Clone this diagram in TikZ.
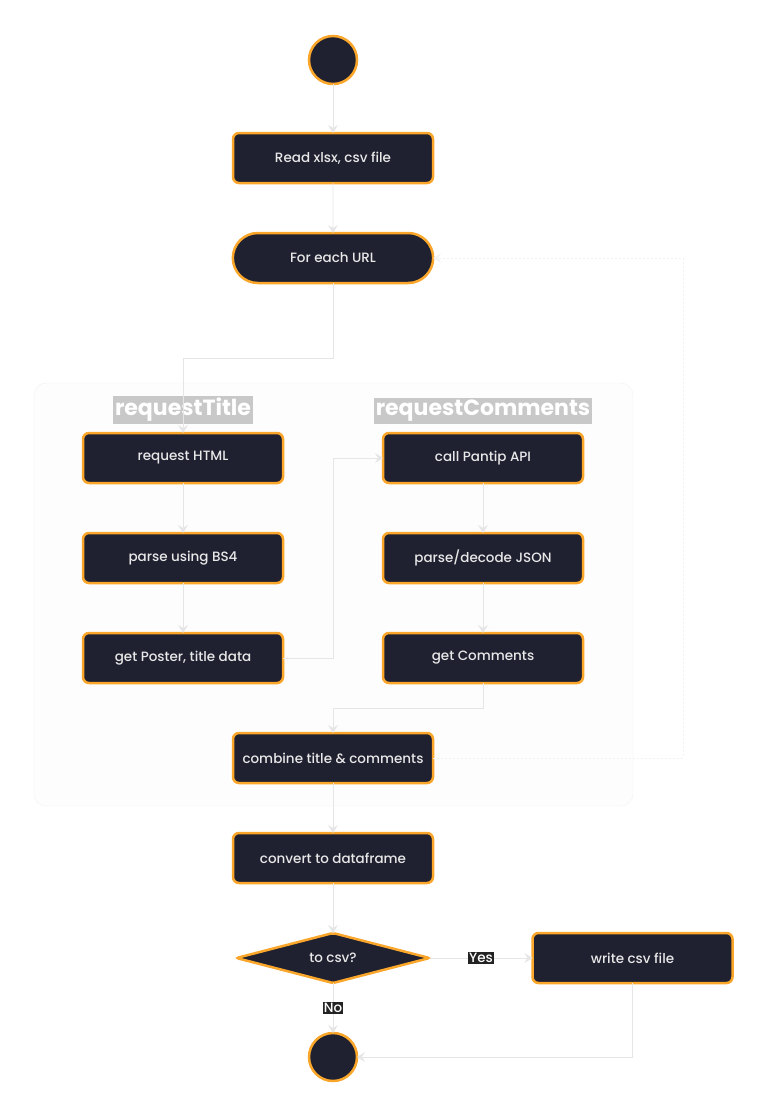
\documentclass[tikz,border=0pt]{standalone}
\usepackage{fontspec}
\setmainfont{Poppins}
\newfontfamily\boxfont{Poppins Medium}
\usetikzlibrary{positioning, arrows.meta, shapes.geometric, shapes.misc, backgrounds}

\definecolor{nodefill}{HTML}{1F2030}
\definecolor{nodeline}{HTML}{F9A62B}
\definecolor{nodetext}{HTML}{E8E8E8}
\definecolor{edgeline}{HTML}{E6E6E6}
\definecolor{groupline}{HTML}{F2F2F2}
\definecolor{groupfill}{HTML}{FDFDFD}
\definecolor{titlefill}{HTML}{C8C8C8}
\definecolor{tagfill}{HTML}{232323}

\begin{document}
\begin{tikzpicture}[
    % --- STYLES ---
    action/.style={
            draw=nodeline,
            fill=nodefill,
            line width=2.5pt,
            outer sep=0pt,
            rounded corners=6pt,
            text=nodetext,
            align=center,
            minimum height=50pt,
            minimum width=200pt,
            font=\boxfont\fontsize{13.5}{16}\selectfont
        },
    loopbox/.style={
            action,
            rounded rectangle,
            rounded corners=0pt,
            minimum width=207pt
        },
    choice/.style={
            action,
            diamond,
            rounded corners=2pt,
            aspect=3.9,
            inner sep=1pt,
            minimum width=193pt,
            minimum height=50pt
        },
    terminal/.style={
            draw=nodeline,
            fill=nodefill,
            line width=2.5pt,
            outer sep=0pt,
            circle,
            minimum size=48pt
        },
    flow/.style={
    ->,
    >={Stealth[length=8pt, width=10pt, inset=3pt]},
    line width=0.8pt,
    color=edgeline
    },
    backflow/.style={
    flow,
    dash pattern=on 2pt off 2pt,
    color=groupline
    },
    grouptitle/.style={
            fill=titlefill,
            text=white,
            inner sep=2pt,
            font=\fontsize{22}{26}\selectfont\bfseries
        },
    tag/.style={
            midway,
            fill=tagfill,
            text=white,
            inner sep=1pt,
            font=\boxfont\fontsize{13.5}{16}\selectfont
        }
    ]

    \useasboundingbox (0,0) rectangle (767pt,-1117pt);

    % --- MAIN COLUMN ---
    \node[terminal] (start) at (333pt,-60pt) {};
    \node[action, below=49pt of start] (read) {Read xlsx, csv file};
    \node[loopbox, below=50pt of read] (foreach) {For each URL};

    % --- TWO REQUESTS ---
    \node[action, below=150pt of foreach, xshift=-150pt] (reqhtml) {request HTML};
    \node[action, below=50pt of reqhtml] (parse) {parse using BS4};
    \node[action, below=50pt of parse] (poster) {get Poster, title data};

    \node[action, right=100pt of reqhtml] (callapi) {call Pantip API};
    \node[action, below=50pt of callapi] (decode) {parse/decode JSON};
    \node[action, below=50pt of decode] (comments) {get Comments};

    \node[action, below=50pt of comments, xshift=-150pt] (combine) {combine title \& comments};

    \node[grouptitle, above=9pt of reqhtml] (titlea) {requestTitle};
    \node[grouptitle, above=9pt of callapi] (titleb) {requestComments};

    % --- OUTPUT ---
    \node[action, below=50pt of combine] (convert) {convert to dataframe};
    \node[choice, below=50pt of convert] (tocsv) {to csv?};
    \node[action, right=103pt of tocsv] (write) {write csv file};
    \node[terminal, below=50pt of tocsv] (stop) {};

    % group frame behind the requests
    \begin{scope}[on background layer]
        \draw[groupline, fill=groupfill, rounded corners=12pt] (34pt,-383pt) rectangle (633pt,-806pt);
    \end{scope}

    % --- FLOW ---
    \draw[flow] (start) -- (read);
    \draw[flow] (read) -- (foreach);
    \draw[flow] (foreach.south) -- ++(0,-75pt) -| (reqhtml.north);

    \draw[flow] (reqhtml) -- (parse);
    \draw[flow] (parse) -- (poster);
    \draw[flow] (poster.east) -- ++(50pt,0) |- (callapi.west);

    \draw[flow] (callapi) -- (decode);
    \draw[flow] (decode) -- (comments);
    \draw[flow] (comments.south) -- ++(0,-25pt) -| (combine.north);

    % loop back to the next URL
    \draw[backflow] (combine.east) -- ++(250pt,0) |- (foreach.east);

    \draw[flow] (combine) -- (convert);
    \draw[flow] (convert) -- (tocsv);
    \draw[flow] (tocsv) -- node[tag] {Yes} (write);
    \draw[flow] (tocsv) -- node[tag] {No} (stop);
    \draw[flow] (write.south) |- (stop.east);

\end{tikzpicture}
\end{document}
